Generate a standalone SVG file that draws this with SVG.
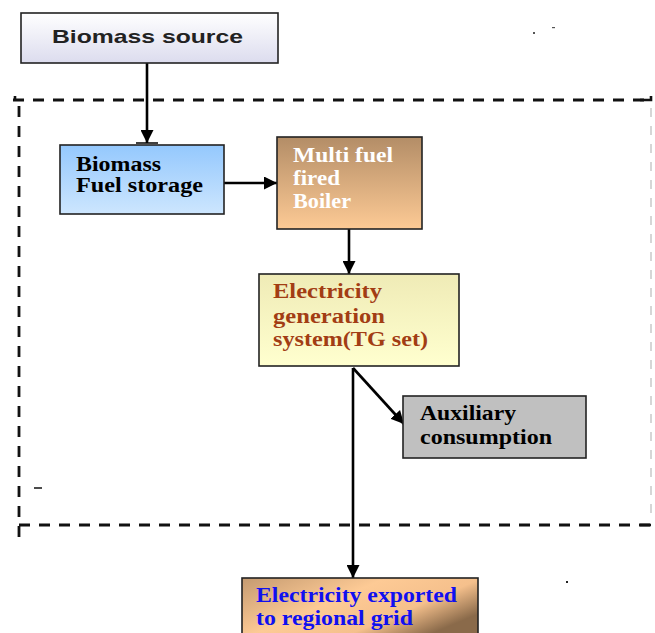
<svg xmlns="http://www.w3.org/2000/svg" width="655" height="633" viewBox="0 0 655 633">
<style>
.box{stroke:#222;stroke-width:1.6}
.t{font-family:"Liberation Serif","Times New Roman",serif;font-weight:bold;font-size:20.5px}
.conn{stroke:#000;stroke-width:2.6;fill:none}
.dash{stroke:#111;stroke-width:2.8;fill:none;stroke-dasharray:11 9}
</style>
<defs>
<marker id="ah" viewBox="0 0 10 10" refX="10" refY="5" markerWidth="5" markerHeight="5" markerUnits="strokeWidth" orient="auto">
<path d="M0,0 L10,5 L0,10 z" fill="#000"/>
</marker>
<linearGradient id="gSrc" x1="0" y1="0" x2="0" y2="1"><stop offset="0" stop-color="#ffffff"/><stop offset="1" stop-color="#dcdcee"/></linearGradient>
<linearGradient id="gBlue" x1="0" y1="0" x2="0" y2="1"><stop offset="0" stop-color="#94c8fd"/><stop offset="1" stop-color="#cde6fe"/></linearGradient>
<linearGradient id="gBoil" x1="0" y1="0" x2="0" y2="1"><stop offset="0" stop-color="#b38d67"/><stop offset="1" stop-color="#fdca95"/></linearGradient>
<linearGradient id="gYel" x1="0" y1="0" x2="0" y2="1"><stop offset="0" stop-color="#efebb6"/><stop offset="1" stop-color="#ffffcf"/></linearGradient>
<linearGradient id="gExp" x1="0" y1="0" x2="1" y2="0.6"><stop offset="0" stop-color="#c49a70"/><stop offset="0.45" stop-color="#fdca95"/><stop offset="0.75" stop-color="#f5c08c"/><stop offset="1" stop-color="#8a6a4a"/></linearGradient>
</defs>

<g id="boundary">
<path class="dash" d="M13,100 L651,100"/>
<path class="dash" d="M19,106 L19,545"/>
<path class="dash" d="M19,525 L651,525"/>
<path d="M651,108 L651,522" stroke="#bbb" stroke-width="1.2" stroke-dasharray="9 9" fill="none"/>
<path d="M640,100 L651,100 L651,96" stroke="#111" stroke-width="2.6" fill="none"/>
<path d="M15,96 L15,100" stroke="#111" stroke-width="2.6" fill="none"/>
<path d="M640,525 L651,525" stroke="#111" stroke-width="2.6" fill="none"/>
<path d="M34,488 L42,488" stroke="#111" stroke-width="1.5"/>
<rect x="566" y="581" width="2" height="2" fill="#222"/>
<rect x="533" y="32" width="2" height="2" fill="#555"/>
<rect x="552" y="27" width="3" height="1.2" fill="#555"/>
</g>

<g id="connectors">
<line class="conn" x1="147" y1="63" x2="147" y2="143" marker-end="url(#ah)"/>
<line x1="136" y1="143" x2="158" y2="143" stroke="#000" stroke-width="1.5"/>
<line class="conn" x1="224" y1="183" x2="277" y2="183" marker-end="url(#ah)"/>
<line class="conn" x1="349" y1="229" x2="349" y2="274" marker-end="url(#ah)"/>
<line class="conn" x1="353" y1="368" x2="404" y2="424" marker-end="url(#ah)"/>
<line class="conn" x1="353" y1="368" x2="353" y2="578" marker-end="url(#ah)"/>
</g>

<g id="biomass-source">
<rect class="box" x="21" y="13" width="257" height="50" fill="url(#gSrc)"/>
<text x="52" y="43" font-family="'Liberation Sans',Arial,sans-serif" font-weight="bold" font-size="19" fill="#222" textLength="191" lengthAdjust="spacingAndGlyphs">Biomass source</text>
</g>

<g id="fuel-storage">
<rect class="box" x="60" y="145" width="164" height="69" fill="url(#gBlue)"/>
<text class="t" x="76" y="171" fill="#000" textLength="85" lengthAdjust="spacingAndGlyphs">Biomass</text>
<text class="t" x="76" y="192" fill="#000" textLength="127" lengthAdjust="spacingAndGlyphs">Fuel storage</text>
</g>

<g id="boiler">
<rect class="box" x="277" y="137" width="145" height="92" fill="url(#gBoil)"/>
<text class="t" x="293" y="162" fill="#fff" textLength="100" lengthAdjust="spacingAndGlyphs">Multi fuel</text>
<text class="t" x="293" y="185" fill="#fff" textLength="47" lengthAdjust="spacingAndGlyphs">fired</text>
<text class="t" x="293" y="208" fill="#fff" textLength="58" lengthAdjust="spacingAndGlyphs">Boiler</text>
</g>

<g id="generation">
<rect class="box" x="259" y="274" width="200" height="92" fill="url(#gYel)"/>
<text class="t" x="273" y="298" fill="#a23d14" textLength="109" lengthAdjust="spacingAndGlyphs">Electricity</text>
<text class="t" x="273" y="323" fill="#a23d14" textLength="112" lengthAdjust="spacingAndGlyphs">generation</text>
<text class="t" x="273" y="346" fill="#a23d14" textLength="155" lengthAdjust="spacingAndGlyphs">system(TG set)</text>
</g>

<g id="auxiliary">
<rect class="box" x="403" y="396" width="183" height="62" fill="#c0c0c0"/>
<text class="t" x="420" y="420" fill="#000" textLength="96" lengthAdjust="spacingAndGlyphs">Auxiliary</text>
<text class="t" x="420" y="444" fill="#000" textLength="132" lengthAdjust="spacingAndGlyphs">consumption</text>
</g>

<g id="export">
<rect class="box" x="242" y="578" width="236" height="60" fill="url(#gExp)"/>
<text class="t" x="256" y="602" fill="#1010f0" textLength="201" lengthAdjust="spacingAndGlyphs">Electricity exported</text>
<text class="t" x="256" y="625" fill="#1010f0" textLength="157" lengthAdjust="spacingAndGlyphs">to regional grid</text>
</g>
</svg>
